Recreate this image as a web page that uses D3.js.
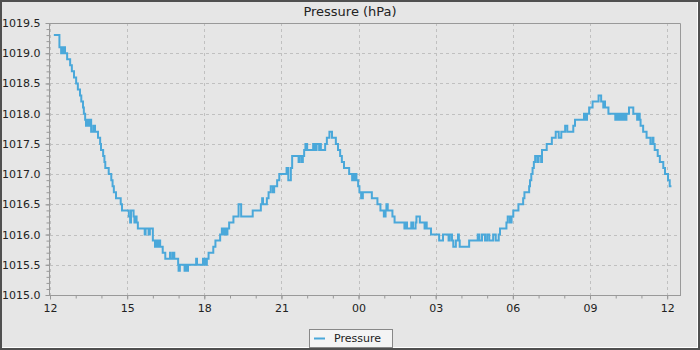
<!DOCTYPE html>
<html>
<head>
<meta charset="utf-8">
<script src="https://cdn.jsdelivr.net/npm/d3@7"></script>
<style>
  html, body { margin: 0; padding: 0; background: #e6e6e6; }
  svg { display: block; font-family: "DejaVu Sans", sans-serif; }
</style>
</head>
<body>
<svg id="chart" width="700" height="350"></svg>
<script>
// Station barometer readings, 24 h window starting at noon.
const chartTitle = "Pressure (hPa)";
const seriesName = "Pressure";
const startTime = new Date(2024, 0, 1, 12, 0);
const endTime = new Date(2024, 0, 2, 12, 30);

// Minutes after 12:00 at which each reading begins
const minutes = [
  9, 22, 26, 28, 30, 33, 35, 40, 47, 51, 56, 61, 65, 70, 73, 77, 79, 82, 84, 86,
  89, 92, 96, 101, 105, 112, 117, 119, 124, 127, 129, 137, 143, 146, 149, 154, 165, 168, 184, 187,
  189, 195, 197, 199, 202, 205, 221, 223, 230, 233, 240, 245, 248, 251, 254, 257, 263, 269, 280, 282,
  287, 290, 299, 300, 303, 314, 317, 320, 322, 341, 343, 357, 359, 362, 364, 366, 370, 381, 386, 397,
  401, 405, 408, 412, 414, 418, 428, 440, 446, 473, 492, 495, 497, 506, 510, 515, 520, 523, 530, 535,
  552, 556, 562, 565, 580, 583, 588, 590, 593, 596, 600, 614, 618, 622, 628, 630, 632, 642, 646, 652,
  658, 667, 672, 677, 681, 686, 698, 705, 707, 710, 713, 715, 719, 722, 726, 730, 751, 764, 771, 779,
  783, 785, 788, 799, 804, 827, 830, 833, 843, 847, 853, 855, 863, 874, 877, 879, 889, 908, 917, 930,
  933, 938, 941, 947, 952, 954, 956, 978, 998, 1002, 1008, 1015, 1020, 1025, 1034, 1040, 1047, 1050, 1065, 1068,
  1073, 1077, 1081, 1093, 1104, 1107, 1118, 1120, 1123, 1126, 1129, 1132, 1137, 1140, 1146, 1148, 1159, 1171, 1180, 1187,
  1193, 1202, 1207, 1221, 1225, 1246, 1249, 1253, 1258, 1266, 1280, 1286, 1291, 1293, 1295, 1303, 1319, 1323, 1326, 1330,
  1334, 1337, 1341, 1345, 1351, 1361, 1370, 1373, 1376, 1378, 1384, 1392, 1401, 1406, 1408, 1411, 1418, 1423, 1431, 1435,
  1442, 1446, 1450
];

// Pressure (hPa) for each reading
const pressure = [
  1019.3, 1019.1, 1019.0, 1019.1, 1019.0, 1019.1, 1019.0, 1018.9, 1018.8, 1018.7, 1018.6, 1018.5, 1018.4, 1018.3, 1018.2, 1018.1, 1018.0, 1017.9, 1017.8, 1017.9,
  1017.8, 1017.9, 1017.7, 1017.8, 1017.7, 1017.6, 1017.5, 1017.4, 1017.3, 1017.2, 1017.1, 1017.0, 1016.9, 1016.8, 1016.7, 1016.6, 1016.5, 1016.4, 1016.3, 1016.2,
  1016.4, 1016.3, 1016.2, 1016.3, 1016.2, 1016.1, 1016.0, 1016.1, 1016.0, 1016.1, 1015.9, 1015.8, 1015.9, 1015.8, 1015.9, 1015.8, 1015.7, 1015.6, 1015.7, 1015.6,
  1015.7, 1015.6, 1015.5, 1015.4, 1015.5, 1015.4, 1015.5, 1015.4, 1015.5, 1015.6, 1015.5, 1015.6, 1015.5, 1015.6, 1015.5, 1015.6, 1015.7, 1015.8, 1015.9, 1016.0,
  1016.1, 1016.0, 1016.1, 1016.0, 1016.1, 1016.2, 1016.3, 1016.5, 1016.3, 1016.4, 1016.5, 1016.6, 1016.5, 1016.6, 1016.7, 1016.8, 1016.7, 1016.8, 1016.9, 1017.0,
  1017.1, 1016.9, 1017.1, 1017.3, 1017.2, 1017.3, 1017.2, 1017.3, 1017.4, 1017.5, 1017.4, 1017.5, 1017.4, 1017.5, 1017.4, 1017.5, 1017.4, 1017.5, 1017.6, 1017.7,
  1017.6, 1017.5, 1017.4, 1017.3, 1017.2, 1017.1, 1017.0, 1016.9, 1017.0, 1016.9, 1017.0, 1016.9, 1016.8, 1016.7, 1016.6, 1016.7, 1016.6, 1016.5, 1016.4, 1016.3,
  1016.4, 1016.5, 1016.4, 1016.3, 1016.2, 1016.1, 1016.2, 1016.1, 1016.2, 1016.1, 1016.2, 1016.3, 1016.2, 1016.1, 1016.2, 1016.1, 1016.0, 1015.9, 1016.0, 1015.9,
  1016.0, 1015.9, 1015.8, 1015.9, 1016.0, 1015.9, 1015.8, 1015.9, 1016.0, 1015.9, 1016.0, 1015.9, 1016.0, 1015.9, 1016.0, 1015.9, 1016.0, 1016.1, 1016.2, 1016.3,
  1016.2, 1016.3, 1016.4, 1016.5, 1016.6, 1016.7, 1016.8, 1016.9, 1017.0, 1017.1, 1017.2, 1017.3, 1017.2, 1017.3, 1017.2, 1017.4, 1017.5, 1017.6, 1017.7, 1017.6,
  1017.7, 1017.8, 1017.7, 1017.8, 1017.9, 1018.0, 1017.9, 1018.0, 1018.1, 1018.2, 1018.3, 1018.2, 1018.1, 1018.2, 1018.1, 1018.0, 1017.9, 1018.0, 1017.9, 1018.0,
  1017.9, 1018.0, 1017.9, 1018.0, 1018.1, 1018.0, 1017.9, 1018.0, 1017.9, 1017.8, 1017.7, 1017.6, 1017.5, 1017.6, 1017.5, 1017.4, 1017.3, 1017.2, 1017.1, 1017.0,
  1016.9, 1016.8, 1016.8
];

const yTicks = [1015.0, 1015.5, 1016.0, 1016.5, 1017.0, 1017.5, 1018.0, 1018.5, 1019.0, 1019.5];
const yMinorStep = 0.1;

const W = 700, H = 350;
const plot = { left: 50, top: 23, right: 680, bottom: 295 };

const data = minutes.map((m, i) => ({
  t: new Date(startTime.getTime() + m * 60000),
  v: pressure[i]
}));

const svg = d3.select("#chart");

// chart background and frame
svg.append("rect").attr("x", 0).attr("y", 0).attr("width", W).attr("height", H).attr("fill", "#e6e6e6");
svg.append("line").attr("x1", 2).attr("x2", 698).attr("y1", 347.5).attr("y2", 347.5).attr("stroke", "#ffffff");
svg.append("line").attr("x1", 697.5).attr("x2", 697.5).attr("y1", 2).attr("y2", 348).attr("stroke", "#ffffff");
svg.append("rect").attr("x", 1).attr("y", 1).attr("width", W - 2).attr("height", H - 2)
  .attr("fill", "none").attr("stroke", "#505050").attr("stroke-width", 2);

const x = d3.scaleTime().domain([startTime, endTime]).range([plot.left, plot.right]);
const y = d3.scaleLinear().domain([yTicks[0], yTicks[yTicks.length - 1]]).range([plot.bottom, plot.top]);

// title
svg.append("text").attr("x", W / 2).attr("y", 16).attr("text-anchor", "middle")
  .attr("font-size", 13).attr("fill", "#222").text(chartTitle);

// plot background
svg.append("rect").attr("x", plot.left).attr("y", plot.top)
  .attr("width", plot.right - plot.left).attr("height", plot.bottom - plot.top).attr("fill", "#e6e6e6");

// grid lines
const xMajor = d3.timeHour.every(3).range(startTime, new Date(endTime.getTime() + 1));
const xMinor = d3.timeHour.every(1).range(startTime, new Date(endTime.getTime() + 1));
const grid = svg.append("g").attr("stroke", "#c0c0c0").attr("stroke-width", 1).attr("stroke-dasharray", "3,3");
grid.selectAll("line.gx").data(xMajor).join("line")
  .attr("x1", d => Math.round(x(d)) + 0.5).attr("x2", d => Math.round(x(d)) + 0.5)
  .attr("y1", plot.top).attr("y2", plot.bottom);
grid.selectAll("line.gy").data(yTicks).join("line")
  .attr("y1", d => Math.round(y(d)) + 0.5).attr("y2", d => Math.round(y(d)) + 0.5)
  .attr("x1", plot.left).attr("x2", plot.right);

// series
svg.append("clipPath").attr("id", "plotclip").append("rect")
  .attr("x", plot.left).attr("y", plot.top)
  .attr("width", plot.right - plot.left).attr("height", plot.bottom - plot.top);
const line = d3.line().x(d => x(d.t)).y(d => y(d.v)).curve(d3.curveStepAfter);
svg.append("path").datum(data).attr("clip-path", "url(#plotclip)")
  .attr("fill", "none").attr("stroke", "#4aa8da").attr("stroke-width", 2).attr("d", line);

// plot outline (top and right)
svg.append("path")
  .attr("d", `M${plot.left},${plot.top + 0.5}H${plot.right + 0.5}V${plot.bottom}`)
  .attr("fill", "none").attr("stroke", "#999");

// x axis
const yMinor = d3.range(Math.round((yTicks[yTicks.length - 1] - yTicks[0]) / yMinorStep) + 1)
  .map(i => yTicks[0] + i * yMinorStep);

const xAxisG = svg.append("g").attr("transform", `translate(0,${plot.bottom + 0.5})`);
xAxisG.call(d3.axisBottom(x).tickValues(xMinor).tickSize(3).tickFormat(""))
  .call(g => g.select(".domain").remove())
  .call(g => g.selectAll("line").attr("stroke", "#999"));
const xAxisMajor = svg.append("g").attr("transform", `translate(0,${plot.bottom + 0.5})`)
  .call(d3.axisBottom(x).tickValues(xMajor).tickSize(4).tickPadding(5).tickFormat(d3.timeFormat("%H")));
xAxisMajor.select(".domain").remove();
xAxisMajor.selectAll("line").attr("stroke", "#999");
xAxisMajor.selectAll("text").attr("font-size", 11).attr("font-family", "DejaVu Sans").attr("fill", "#222");

// y axis
const yAxisG = svg.append("g").attr("transform", `translate(${plot.left - 0.5},0)`);
yAxisG.call(d3.axisLeft(y).tickValues(yMinor).tickSize(3).tickFormat(""))
  .call(g => g.select(".domain").remove())
  .call(g => g.selectAll("line").attr("stroke", "#999"));
const yAxisMajor = svg.append("g").attr("transform", `translate(${plot.left - 0.5},0)`)
  .call(d3.axisLeft(y).tickValues(yTicks).tickSize(4).tickPadding(5).tickFormat(d3.format(".1f")));
yAxisMajor.select(".domain").remove();
yAxisMajor.selectAll("line").attr("stroke", "#999");
yAxisMajor.selectAll("text").attr("font-size", 11).attr("font-family", "DejaVu Sans").attr("fill", "#222");

// axis lines
svg.append("line").attr("x1", plot.left - 0.5).attr("x2", plot.left - 0.5)
  .attr("y1", plot.top).attr("y2", plot.bottom + 1).attr("stroke", "#999");
svg.append("line").attr("x1", plot.left - 1).attr("x2", plot.right + 1)
  .attr("y1", plot.bottom + 0.5).attr("y2", plot.bottom + 0.5).attr("stroke", "#999");

// legend
const legend = svg.append("g");
legend.append("rect").attr("x", 309.5).attr("y", 329.5).attr("width", 83).attr("height", 18)
  .attr("fill", "#f4f4f4").attr("stroke", "#888");
legend.append("line").attr("x1", 314).attr("x2", 325).attr("y1", 338.5).attr("y2", 338.5)
  .attr("stroke", "#4aa8da").attr("stroke-width", 2);
legend.append("text").attr("x", 334).attr("y", 341.5).attr("font-size", 11).attr("fill", "#222").text(seriesName);
</script>
</body>
</html>
